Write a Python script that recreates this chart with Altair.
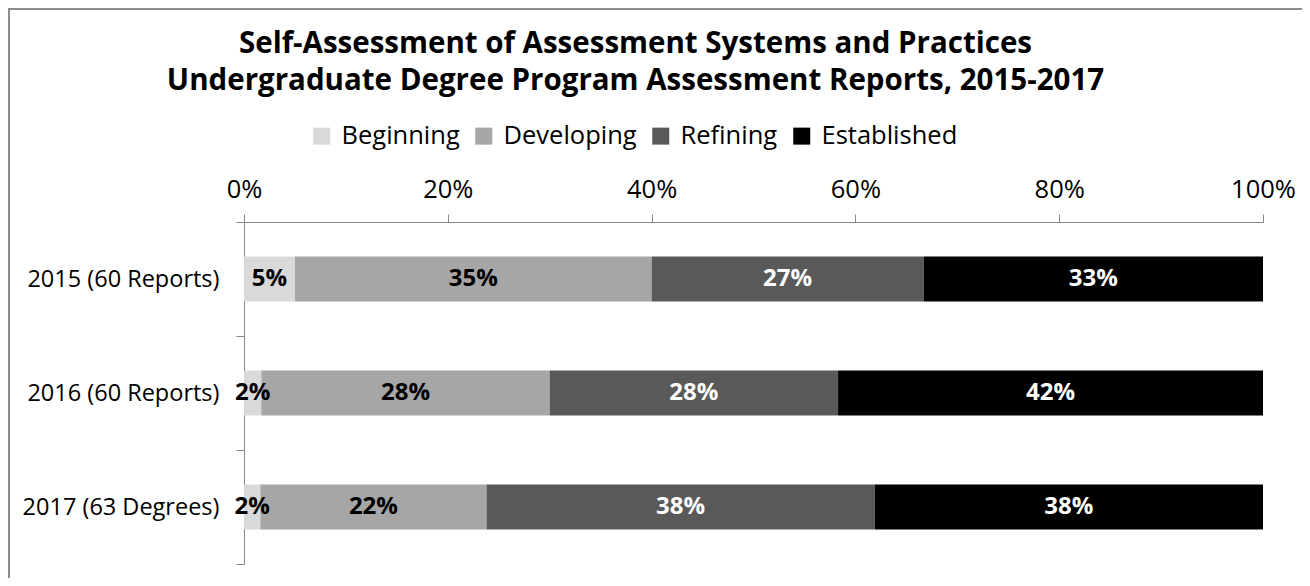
import altair as alt
import pandas as pd

years = ["2015 (60 Reports)", "2016 (60 Reports)", "2017 (63 Degrees)"]
levels = ["Beginning", "Developing", "Refining", "Established"]
beginning = [5.0, 1.7, 1.6]
developing = [35.0, 28.3, 22.2]
refining = [26.7, 28.3, 38.1]
established = [33.3, 41.7, 38.1]
colors = ["#d9d9d9", "#a6a6a6", "#595959", "#000000"]
title_lines = ["Self-Assessment of Assessment Systems and Practices",
               "Undergraduate Degree Program Assessment Reports, 2015-2017"]

series = [beginning, developing, refining, established]
rows = []
for i, y in enumerate(years):
    cum = 0.0
    for j, lev in enumerate(levels):
        v = series[j][i]
        rows.append({"year": y, "level": lev, "order": j, "value": v / 100,
                     "start": cum / 100, "end": (cum + v) / 100,
                     "mid": (cum + v / 2) / 100,
                     "label": f"{round(v)}%"})
        cum += v
df = pd.DataFrame(rows)

FONT = "Open Sans"
AX = "#868686"

y_enc = alt.Y("year:N", sort=years,
              scale=alt.Scale(paddingInner=0, paddingOuter=0),
              axis=alt.Axis(title=None, tickBand="extent", labelFontSize=23.5,
                            labelColor="black", labelFont=FONT, domainColor=AX,
                            tickColor=AX, tickSize=8, labelPadding=17,
                            labelLimit=400))

bars = alt.Chart(df).mark_bar(size=45).encode(
    x=alt.X("start:Q", scale=alt.Scale(domain=[0, 1]),
            axis=alt.Axis(orient="top", values=[0, 0.2, 0.4, 0.6, 0.8, 1.0],
                          format=".0%", title=None, grid=False, tickSize=8,
                          labelFontSize=25.5, labelFont=FONT, labelColor="black",
                          labelFlush=False, labelOverlap=False,
                          domainColor=AX, tickColor=AX, labelPadding=12)),
    x2="end:Q",
    y=y_enc,
    color=alt.Color("level:N", sort=levels,
                    scale=alt.Scale(domain=levels, range=colors),
                    legend=alt.Legend(title=None, orient="none", direction="horizontal",
                                      legendX=65, legendY=-99, symbolType="square",
                                      symbolSize=289, symbolStrokeWidth=0,
                                      labelFontSize=25.5, labelFont=FONT,
                                      labelColor="black", labelOffset=7,
                                      columnPadding=11, labelLimit=400)),
    order=alt.Order("order:Q"),
)

text = alt.Chart(df).mark_text(fontSize=24, fontWeight="bold", font=FONT).encode(
    x=alt.X("mid:Q"),
    y=alt.Y("year:N", sort=years),
    text="label:N",
    color=alt.condition(alt.datum.order >= 2, alt.value("white"), alt.value("black")),
)

border_top = alt.Chart(df).mark_rule(color="#8c8c8c", strokeWidth=2, clip=False).encode(
    x=alt.value(-236), x2=alt.value(1060), y=alt.value(-213))
border_left = alt.Chart(df).mark_rule(color="#8c8c8c", strokeWidth=2, clip=False).encode(
    x=alt.value(-235), y=alt.value(-214), y2=alt.value(356))

chart = alt.layer(bars, text, border_top, border_left).properties(
    width=1019, height=342,
    autosize=alt.AutoSizeParams(type="none"),
    padding={"left": 236, "top": 214, "right": 39, "bottom": 14},
    title=alt.TitleParams(title_lines, fontSize=29.5, font=FONT, fontWeight="bold",
                          color="black", anchor="middle", dx=-118, lineHeight=37,
                          offset=-89),
).configure_view(stroke=None)

chart.save("out.html", embed_options={"renderer": "svg", "actions": False})
